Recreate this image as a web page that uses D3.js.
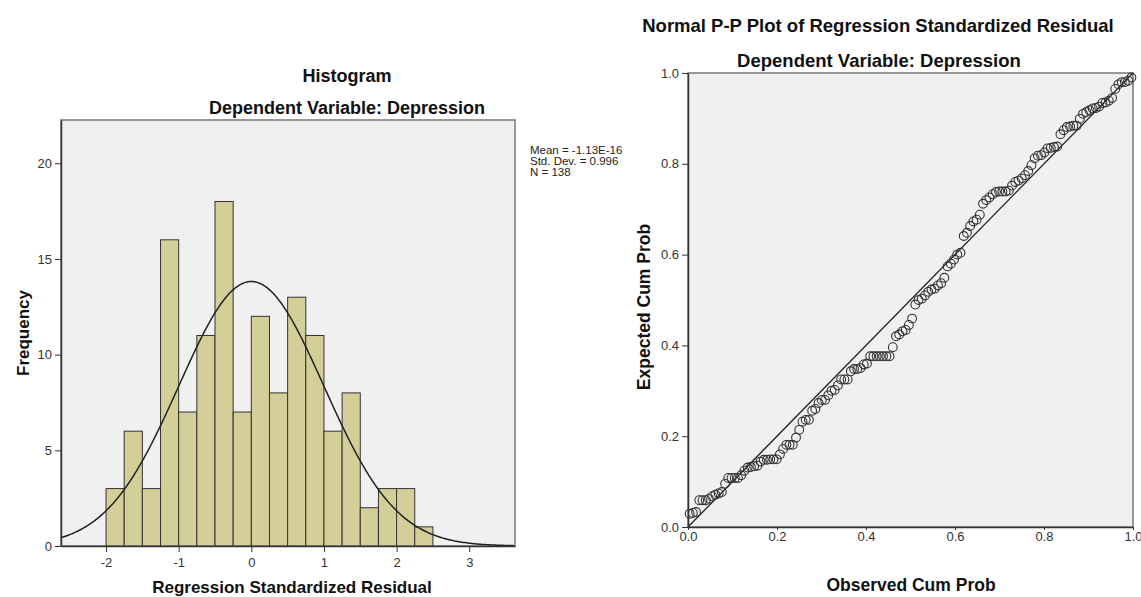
<!DOCTYPE html>
<html lang="en">
<head>
<meta charset="UTF-8">
<title>Regression residual diagnostics</title>
<script src="https://d3js.org/d3.v7.min.js"></script>
<style>
  body { margin: 0; background: #fff; }
  text { font-family: "Liberation Sans", Arial, sans-serif; }
  .tick text { font-size: 13px; fill: #333; }
  .tick line, .domain { stroke: #333; }
</style>
</head>
<body>
<div id="chart"></div>
<script>
// histogram bins (width 0.25) of regression standardized residuals
const binStarts = [-2, -1.75, -1.5, -1.25, -1, -0.75, -0.5, -0.25, 0, 0.25, 0.5, 0.75, 1, 1.25, 1.5, 1.75, 2, 2.25];
const binCounts = [3, 6, 3, 16, 7, 11, 18, 7, 12, 8, 13, 11, 6, 8, 2, 3, 3, 1];
const binWidth = 0.25;
const histXTicks = [-2, -1, 0, 1, 2, 3];
const histYTicks = [0, 5, 10, 15, 20];

// summary stats shown beside histogram
const resMean = -1.13e-16;
const resSd = 0.996;
const nObs = 138;
const statLines = ["Mean = -1.13E-16", "Std. Dev. = 0.996", "N = 138"];

// P-P plot: expected cum prob for each case, in rank order
const expectedCum = [
  .029, .031, .033, .059, .059, .059, .062, .068, .071, .074,
  .077, .095, .108, .108, .108, .108, .114, .124, .131, .132,
  .134, .135, .144, .148, .148, .149, .149, .149, .160, .172,
  .181, .181, .181, .197, .214, .232, .236, .236, .256, .260,
  .273, .280, .280, .290, .300, .302, .312, .325, .325, .325,
  .343, .348, .348, .350, .358, .360, .376, .376, .376, .376,
  .376, .376, .376, .396, .420, .424, .431, .434, .445, .459,
  .490, .500, .503, .510, .518, .523, .525, .532, .537, .549,
  .574, .580, .589, .600, .604, .641, .648, .663, .673, .677,
  .688, .712, .720, .726, .733, .738, .739, .739, .739, .741,
  .752, .760, .763, .768, .775, .784, .797, .812, .818, .819,
  .825, .834, .835, .837, .838, .865, .874, .881, .882, .884,
  .884, .899, .910, .914, .918, .922, .923, .926, .934, .935,
  .939, .945, .965, .975, .980, .980, .983, .990
];
const ppTicks = [0, 0.2, 0.4, 0.6, 0.8, 1.0];

const svg = d3.select("#chart").append("svg")
  .attr("width", 1141).attr("height", 597);

// plain hyphen for negative tick labels, like the original
const plainFmt = d => String(d);

// ---------- Histogram ----------
const hx = d3.scaleLinear().domain([-2.62, 3.63]).range([61, 515]);
const hy = d3.scaleLinear().domain([0, 22.26]).range([546, 120]);

svg.append("rect")
  .attr("x", hx.range()[0]).attr("y", hy.range()[1])
  .attr("width", hx.range()[1] - hx.range()[0])
  .attr("height", hy.range()[0] - hy.range()[1])
  .attr("fill", "#f0f0f0").attr("stroke", "#777").attr("stroke-width", 1.5);

svg.selectAll("rect.bar")
  .data(binStarts.map((s, i) => ({ s, c: binCounts[i] })))
  .join("rect")
  .attr("class", "bar")
  .attr("x", d => hx(d.s))
  .attr("y", d => hy(d.c))
  .attr("width", d => hx(d.s + binWidth) - hx(d.s))
  .attr("height", d => hy(0) - hy(d.c))
  .attr("fill", "#d4cf98").attr("stroke", "#333").attr("stroke-width", 1);

// fitted normal curve from the reported mean / sd / N
const curvePts = d3.range(-2.62, 3.631, 0.02).map(x => {
  const z = (x - resMean) / resSd;
  return [x, nObs * binWidth * Math.exp(-0.5 * z * z) / (resSd * Math.sqrt(2 * Math.PI))];
});
svg.append("path")
  .attr("d", d3.line().x(d => hx(d[0])).y(d => hy(d[1]))(curvePts))
  .attr("fill", "none").attr("stroke", "#222").attr("stroke-width", 1.5);

svg.append("g").attr("transform", `translate(0,${hy(0)})`)
  .call(d3.axisBottom(hx).tickValues(histXTicks).tickFormat(plainFmt).tickSize(6).tickPadding(6).tickSizeOuter(0))
  .call(g => g.select(".domain").attr("stroke-width", 1.5));
svg.append("g").attr("transform", `translate(${hx.range()[0]},0)`)
  .call(d3.axisLeft(hy).tickValues(histYTicks).tickFormat(plainFmt).tickSize(6).tickPadding(3).tickSizeOuter(0))
  .call(g => g.select(".domain").attr("stroke-width", 1.5));

svg.append("text").attr("x", 347).attr("y", 82).attr("text-anchor", "middle")
  .attr("font-size", 18).attr("font-weight", "bold").attr("fill", "#111").text("Histogram");
svg.append("text").attr("x", 347).attr("y", 114).attr("text-anchor", "middle")
  .attr("font-size", 18).attr("font-weight", "bold").attr("fill", "#111").text("Dependent Variable: Depression");
svg.append("text").attr("x", 292).attr("y", 593).attr("text-anchor", "middle")
  .attr("font-size", 17).attr("font-weight", "bold").attr("fill", "#111").text("Regression Standardized Residual");
svg.append("text").attr("transform", "translate(29,333) rotate(-90)").attr("text-anchor", "middle")
  .attr("font-size", 17).attr("font-weight", "bold").attr("fill", "#111").text("Frequency");

svg.selectAll("text.stat").data(statLines).join("text")
  .attr("class", "stat")
  .attr("x", 530).attr("y", (d, i) => 154 + i * 11)
  .attr("font-size", 11.5).attr("fill", "#222").text(d => d);

// ---------- Normal P-P plot ----------
const px = d3.scaleLinear().domain([0, 1]).range([688, 1133]);
const py = d3.scaleLinear().domain([0, 1]).range([527, 73]);

svg.append("rect")
  .attr("x", px(0)).attr("y", py(1))
  .attr("width", px(1) - px(0)).attr("height", py(0) - py(1))
  .attr("fill", "#f0f0f0").attr("stroke", "#777").attr("stroke-width", 1.5);

svg.append("line")
  .attr("x1", px(0)).attr("y1", py(0)).attr("x2", px(1)).attr("y2", py(1))
  .attr("stroke", "#222").attr("stroke-width", 1.3);

// observed cum prob is the rank-based proportion of each case
svg.selectAll("circle.pt")
  .data(expectedCum.map((e, i) => ({ o: (i + 0.5) / expectedCum.length, e })))
  .join("circle")
  .attr("class", "pt")
  .attr("cx", d => px(d.o)).attr("cy", d => py(d.e)).attr("r", 4.4)
  .attr("fill", "none").attr("stroke", "#333").attr("stroke-width", 1.1);

svg.append("g").attr("transform", `translate(0,${py(0)})`)
  .call(d3.axisBottom(px).tickValues(ppTicks).tickFormat(d3.format(".1f")).tickSize(3).tickPadding(2).tickSizeOuter(0))
  .call(g => g.select(".domain").attr("stroke-width", 1.5));
svg.append("g").attr("transform", `translate(${px(0)},0)`)
  .call(d3.axisLeft(py).tickValues(ppTicks).tickFormat(d3.format(".1f")).tickSize(6).tickPadding(3).tickSizeOuter(0))
  .call(g => g.select(".domain").attr("stroke-width", 1.5));

svg.append("text").attr("x", 878).attr("y", 32).attr("text-anchor", "middle")
  .attr("font-size", 18.5).attr("font-weight", "bold").attr("fill", "#111").text("Normal P-P Plot of Regression Standardized Residual");
svg.append("text").attr("x", 879).attr("y", 67).attr("text-anchor", "middle")
  .attr("font-size", 18.5).attr("font-weight", "bold").attr("fill", "#111").text("Dependent Variable: Depression");
svg.append("text").attr("x", 911).attr("y", 591).attr("text-anchor", "middle")
  .attr("font-size", 17.5).attr("font-weight", "bold").attr("fill", "#111").text("Observed Cum Prob");
svg.append("text").attr("transform", "translate(650,307) rotate(-90)").attr("text-anchor", "middle")
  .attr("font-size", 17.5).attr("font-weight", "bold").attr("fill", "#111").text("Expected Cum Prob");
</script>
</body>
</html>
